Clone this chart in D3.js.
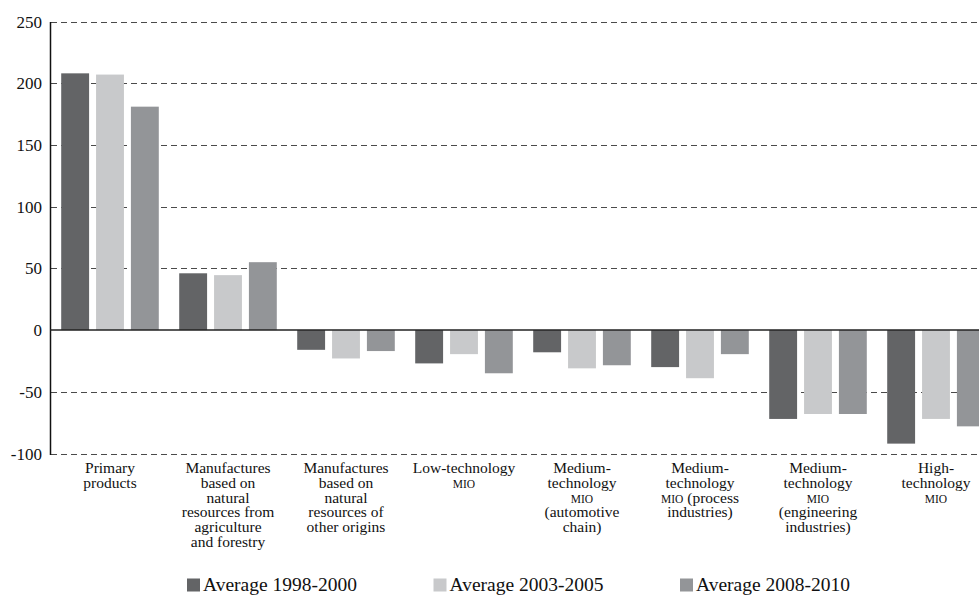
<!DOCTYPE html>
<html>
<head>
<meta charset="utf-8">
<script src="https://cdn.jsdelivr.net/npm/d3@7"></script>
<style>
    body { margin: 0; background: #fff; }
    svg { display: block; overflow: hidden; }
    text { font-family: "Liberation Serif", "Times New Roman", serif; fill: #111; }
</style>
</head>
<body>
<div id="chart"></div>
<script>
const categories = [
    "Primary\nproducts",
    "Manufactures\nbased on\nnatural\nresources from\nagriculture\nand forestry",
    "Manufactures\nbased on\nnatural\nresources of\nother origins",
    "Low-technology\nMIO",
    "Medium-\ntechnology\nMIO\n(automotive\nchain)",
    "Medium-\ntechnology\nMIO (process\nindustries)",
    "Medium-\ntechnology\nMIO\n(engineering\nindustries)",
    "High-\ntechnology\nMIO"
];
const seriesNames = ["Average 1998-2000", "Average 2003-2005", "Average 2008-2010"];
const avg1998 = [208, 46, -16, -27, -18, -30, -72, -92];
const avg2003 = [207, 44.5, -23, -19.5, -31, -39, -68, -72];
const avg2008 = [181, 55, -17, -35, -28.5, -19.5, -68, -78];
const yTicks = [-100, -50, 0, 50, 100, 150, 200, 250];
const colors = ["#636466", "#c8c9cb", "#939598"];

document.addEventListener("DOMContentLoaded", function () {
    const W = 979, H = 595;
    const plot = { left: 51, right: 995, top: 21.5, bottom: 453.5 };

    const svg = d3.select("#chart")
        .append("svg")
        .attr("width", W)
        .attr("height", H);

    const values = [avg1998, avg2003, avg2008];
    const data = categories.map((c, i) => ({
        cat: c,
        vals: seriesNames.map((s, j) => ({ series: s, value: values[j][i] }))
    }));

    const x0 = d3.scaleBand()
        .domain(categories)
        .range([plot.left, plot.right])
        .paddingInner(0.173)
        .paddingOuter(0.0865);
    const x1 = d3.scaleBand()
        .domain(seriesNames)
        .range([0, x0.bandwidth()])
        .paddingInner(0.2);
    const y = d3.scaleLinear()
        .domain([-100, 250])
        .range([plot.bottom, plot.top]);
    const color = d3.scaleOrdinal().domain(seriesNames).range(colors);

    // dashed grid lines (all but zero)
    svg.append("g")
        .selectAll("line")
        .data(yTicks.filter(d => d !== 0))
        .enter()
        .append("line")
        .attr("x1", plot.left)
        .attr("x2", W)
        .attr("y1", d => Math.round(y(d)) + 0.5)
        .attr("y2", d => Math.round(y(d)) + 0.5)
        .attr("stroke", "#4a4a4a")
        .attr("stroke-width", 1)
        .attr("stroke-dasharray", "6,4");

    // y tick labels
    svg.append("g")
        .selectAll("text")
        .data(yTicks)
        .enter()
        .append("text")
        .attr("x", 42)
        .attr("y", d => y(d) + 6)
        .attr("text-anchor", "end")
        .style("font-size", "17px")
        .text(d => d);

    // bars
    const groups = svg.append("g")
        .selectAll("g")
        .data(data)
        .enter()
        .append("g")
        .attr("transform", d => `translate(${x0(d.cat)},0)`);
    groups.selectAll("rect")
        .data(d => d.vals)
        .enter()
        .append("rect")
        .attr("x", d => x1(d.series))
        .attr("width", x1.bandwidth())
        .attr("y", d => y(Math.max(0, d.value)))
        .attr("height", d => Math.abs(y(d.value) - y(0)))
        .attr("fill", d => color(d.series));

    // axis lines
    svg.append("line")
        .attr("x1", plot.left - 0.5)
        .attr("x2", plot.left - 0.5)
        .attr("y1", Math.round(y(250)))
        .attr("y2", Math.round(y(-100)) + 1)
        .attr("stroke", "#111")
        .attr("stroke-width", 1.5);
    svg.append("line")
        .attr("x1", plot.left - 1)
        .attr("x2", W)
        .attr("y1", y(0))
        .attr("y2", y(0))
        .attr("stroke", "#222")
        .attr("stroke-width", 1.5);

    // category labels, one text per line
    const labels = svg.append("g")
        .selectAll("g")
        .data(categories)
        .enter()
        .append("g")
        .attr("transform", d => `translate(${x0(d) + x0.bandwidth() / 2},473)`);
    labels.each(function (d) {
        const g = d3.select(this);
        d.split("\n").forEach((line, i) => {
            const t = g.append("text")
                .attr("text-anchor", "middle")
                .attr("y", i * 14.8)
                .style("font-size", "15.5px");
            line.split(/(MIO)/).filter(s => s.length).forEach(part => {
                const sp = t.append("tspan").text(part);
                if (part === "MIO") sp.style("font-size", "11.5px");
            });
        });
    });

    // legend
    const legend = svg.append("g")
        .selectAll("g")
        .data(seriesNames)
        .enter()
        .append("g")
        .attr("transform", (d, i) => `translate(${187 + i * 246.5},0)`);
    legend.append("rect")
        .attr("x", 0)
        .attr("y", 578.5)
        .attr("width", 13)
        .attr("height", 13)
        .attr("fill", d => color(d));
    legend.append("text")
        .attr("x", 16)
        .attr("y", 590.5)
        .style("font-size", "19.5px")
        .text(d => d);
});
</script>
</body>
</html>
